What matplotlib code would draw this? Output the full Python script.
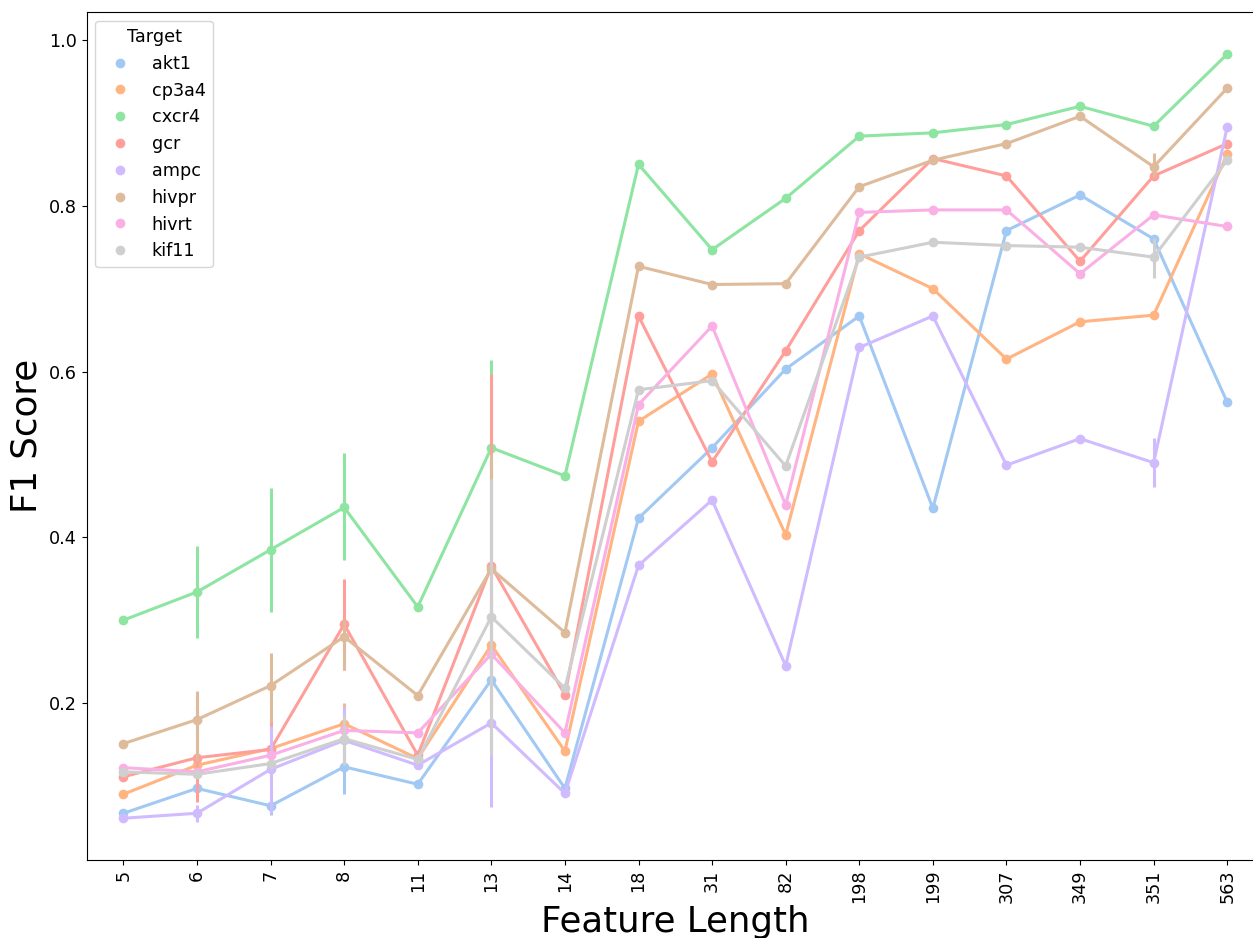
import numpy as np
import matplotlib
matplotlib.use("Agg")
import matplotlib.pyplot as plt
from matplotlib.lines import Line2D
import seaborn as sns

feature_lengths = ["5", "6", "7", "8", "11", "13", "14", "18", "31", "82",
                   "198", "199", "307", "349", "351", "563"]
targets = ["akt1", "cp3a4", "cxcr4", "gcr", "ampc", "hivpr", "hivrt", "kif11"]

f1_akt1 = [0.067, 0.097, 0.076, 0.123, 0.102, 0.228, 0.097, 0.423, 0.508, 0.603,
           0.667, 0.435, 0.770, 0.813, 0.760, 0.563]
f1_cp3a4 = [0.090, 0.125, 0.145, 0.175, 0.133, 0.270, 0.142, 0.540, 0.597, 0.403,
            0.742, 0.700, 0.615, 0.660, 0.668, 0.862]
f1_cxcr4 = [0.300, 0.334, 0.385, 0.436, 0.316, 0.508, 0.474, 0.850, 0.747, 0.809,
            0.884, 0.888, 0.898, 0.920, 0.896, 0.983]
f1_gcr = [0.111, 0.134, 0.144, 0.295, 0.137, 0.365, 0.210, 0.667, 0.491, 0.625,
          0.770, 0.857, 0.836, 0.733, 0.836, 0.875]
f1_ampc = [0.061, 0.067, 0.120, 0.155, 0.125, 0.176, 0.091, 0.366, 0.445, 0.245,
           0.629, 0.667, 0.487, 0.519, 0.490, 0.895]
f1_hivpr = [0.151, 0.180, 0.221, 0.280, 0.209, 0.362, 0.285, 0.727, 0.705, 0.706,
            0.823, 0.855, 0.875, 0.908, 0.847, 0.942]
f1_hivrt = [0.122, 0.117, 0.137, 0.167, 0.164, 0.259, 0.164, 0.560, 0.655, 0.439,
            0.792, 0.795, 0.795, 0.718, 0.789, 0.775]
f1_kif11 = [0.117, 0.114, 0.127, 0.157, 0.132, 0.304, 0.218, 0.578, 0.589, 0.486,
            0.738, 0.756, 0.752, 0.750, 0.738, 0.855]

# Confidence intervals: {category index: (low, high)}
ci_akt1 = {2: (0.065, 0.090), 3: (0.090, 0.155)}
ci_cp3a4 = {1: (0.110, 0.140), 3: (0.155, 0.200), 5: (0.200, 0.330)}
ci_cxcr4 = {1: (0.278, 0.390), 2: (0.310, 0.460), 3: (0.372, 0.502), 5: (0.470, 0.614)}
ci_gcr = {1: (0.080, 0.190), 2: (0.120, 0.178), 3: (0.240, 0.350), 5: (0.300, 0.597)}
ci_ampc = {1: (0.057, 0.077), 2: (0.067, 0.172), 3: (0.130, 0.197), 5: (0.075, 0.250),
           14: (0.461, 0.520)}
ci_hivpr = {1: (0.130, 0.215), 2: (0.177, 0.260), 3: (0.240, 0.300), 5: (0.250, 0.500),
            14: (0.835, 0.864)}
ci_hivrt = {5: (0.200, 0.320)}
ci_kif11 = {3: (0.125, 0.185), 5: (0.137, 0.470), 14: (0.713, 0.761)}

series = [f1_akt1, f1_cp3a4, f1_cxcr4, f1_gcr, f1_ampc, f1_hivpr, f1_hivrt, f1_kif11]
cis = [ci_akt1, ci_cp3a4, ci_cxcr4, ci_gcr, ci_ampc, ci_hivpr, ci_hivrt, ci_kif11]
colors = sns.color_palette("pastel", 8)

fig = plt.figure(figsize=(12.53, 9.38), dpi=100)
W, H = 1253, 938
left, right, bottom, top = 86.6, 1264, 860, 12
ax = fig.add_axes([left / W, 1 - bottom / H, (right - left) / W, (bottom - top) / H])

x = np.arange(len(feature_lengths))
lw = 2.2
for vals, ci, c in zip(series, cis, colors):
    ax.plot(x, vals, color=c, lw=lw, solid_capstyle="butt")
    for i, (lo, hi) in ci.items():
        ax.plot([x[i], x[i]], [lo, hi], color=c, lw=lw, solid_capstyle="butt")
    ax.plot(x, vals, ls="", marker="o", ms=7, mew=0, color=c)

ax.set_xlim(-0.5, len(feature_lengths) - 0.5)
ax.set_ylim(0.0106, 1.0338)
ax.set_xticks(x)
ax.set_xticklabels(feature_lengths, rotation=90, fontsize=12.7)
ax.set_yticks([0.2, 0.4, 0.6, 0.8, 1.0])
ax.set_yticklabels(["0.2", "0.4", "0.6", "0.8", "1.0"], fontsize=12.7)
ax.set_xlabel("Feature Length", fontsize=25.6, labelpad=1)
ax.set_ylabel("F1 Score", fontsize=25.6)

handles = [Line2D([], [], ls="", marker="o", ms=7, mew=0, color=c) for c in colors]
leg = ax.legend(handles, targets, title="Target", loc="upper left",
                fontsize=12.7, title_fontsize=12.7, labelspacing=0.5,
                handlelength=2.0, handletextpad=0.8, borderaxespad=0.5)

fig.savefig("out.png", dpi=100)
